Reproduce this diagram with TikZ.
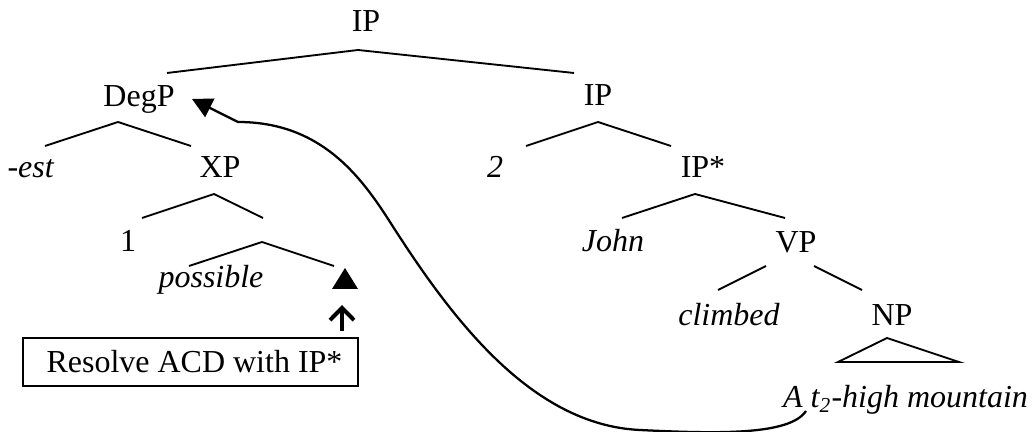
\documentclass[tikz,border=0pt]{standalone}
\usepackage{fontspec}
\setmainfont{Liberation Serif}
\usetikzlibrary{arrows.meta}
\begin{document}
\begin{tikzpicture}[x=0.375pt,y=-0.375pt,
  lbl/.style={anchor=base, inner sep=0pt, font=\fontsize{12}{14}\selectfont},
  br/.style={line width=0.7pt},
  curve/.style={line width=0.85pt},
  boxnode/.style={draw, line width=0.9pt, minimum width=125.6pt, minimum height=18pt, inner sep=0pt, font=\fontsize{12}{14}\selectfont},
  upar/.style={line width=1.5pt, -{Straight Barb[length=4.6pt,width=9pt]}}]
\useasboundingbox (0,0) rectangle (1032,432);
% labels
\node[lbl] (IP0) at (366,32) {IP};
\node[lbl] (DegP) at (139,107) {DegP};
\node[lbl] (IP1) at (598,106) {IP};
\node[lbl] (est) at (31,178) {-\textit{est}};
\node[lbl] (XP) at (220,178) {XP};
\node[lbl] (two) at (495,178) {\textit{2}};
\node[lbl] (IPs) at (703,178) {IP*};
\node[lbl] (one) at (128,252) {1};
\node[lbl] (John) at (613,252) {\textit{John}};
\node[lbl] (VP) at (796,253) {VP};
\node[lbl] (possible) at (211,288) {\textit{possible}};
\node[lbl] (climbed) at (729,326) {\textit{climbed}};
\node[lbl] (NP) at (892,326) {NP};
\node[lbl] (mountain) at (905.5,408) {\textit{A t\textsubscript{2}-high mountain}};
\node[boxnode] (box) at (190.5,362) {\hspace*{3pt}Resolve ACD with IP*};
% branch points
\coordinate (aIP0) at (358,50);
\coordinate (lIP0) at (167,73);
\coordinate (rIP0) at (574,73);
\coordinate (aDeg) at (118,122);
\coordinate (lDeg) at (45,146);
\coordinate (rDeg) at (191,146);
\coordinate (aIP1) at (598,122);
\coordinate (lIP1) at (526,146);
\coordinate (rIP1) at (671,146);
\coordinate (aXP) at (214,194);
\coordinate (lXP) at (142,218);
\coordinate (rXP) at (263,218);
\coordinate (aX) at (262,242);
\coordinate (lX) at (189,266);
\coordinate (rX) at (334,266);
\coordinate (aIPs) at (695,194);
\coordinate (lIPs) at (622,218);
\coordinate (rIPs) at (785,218);
\coordinate (aVPl) at (766,266);
\coordinate (lVP) at (718,290);
\coordinate (aVPr) at (814,266);
\coordinate (rVP) at (862,290);
\coordinate (aNP) at (887,338);
\coordinate (lNP) at (838,362);
\coordinate (rNP) at (959,362);
% branches
\draw[br] (lIP0) -- (aIP0) -- (rIP0);
\draw[br] (lDeg) -- (aDeg) -- (rDeg);
\draw[br] (lIP1) -- (aIP1) -- (rIP1);
\draw[br] (lXP) -- (aXP) -- (rXP);
\draw[br] (lX) -- (aX) -- (rX);
\draw[br] (lIPs) -- (aIPs) -- (rIPs);
\draw[br] (aVPl) -- (lVP);
\draw[br] (aVPr) -- (rVP);
\draw[br] (aNP) -- (lNP) -- (rNP) -- cycle;
% elided constituent
\coordinate (tri) at (345,268);
\fill (tri) -- (332,289) -- (358,289) -- cycle;
% up arrow
\coordinate (upb) at (342,331);
\coordinate (upt) at (342,305);
\draw[upar] (upb) -- (upt);
% movement arrow
\coordinate (tstart) at (806,411);
\coordinate (tip) at (192,99);
\draw[curve, -{Triangle[length=7.5pt,width=7.7pt]}] (tstart)
  .. controls (790,435) and (720,434) .. (640,430)
  .. controls (530,425) and (450,316) .. (390,222)
  .. controls (360,175) and (320,122) .. (238,122)
  -- (tip);
\end{tikzpicture}
\end{document}
